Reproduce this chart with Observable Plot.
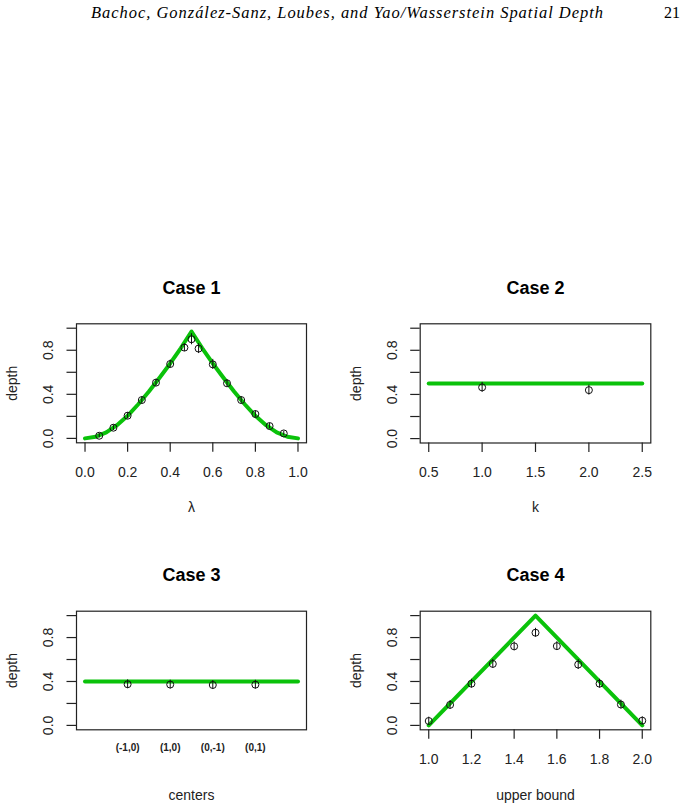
<!DOCTYPE html>
<html>
<head>
<meta charset="utf-8">
<script src="https://cdn.jsdelivr.net/npm/d3@7"></script>
<script src="https://cdn.jsdelivr.net/npm/@observablehq/plot@0.6"></script>
<style>
  html, body { margin: 0; padding: 0; background: #fff; }
  #page { position: relative; width: 694px; height: 809px; overflow: hidden; background: #fff; }
  .panel { position: absolute; }
  .panel svg { overflow: visible; }
</style>
</head>
<body>
<div id="page">
  <svg id="header" width="694" height="30" style="position:absolute;left:0;top:0">
    <text id="runhead" x="91" y="18" font-family="'Liberation Serif', 'DejaVu Serif', serif" font-style="italic" font-size="16.5" textLength="512" lengthAdjust="spacing" fill="#000"></text>
    <text id="pagenum" x="680" y="18" text-anchor="end" font-family="'Liberation Serif', 'DejaVu Serif', serif" font-size="16" fill="#000"></text>
  </svg>
</div>
<script>
// ---------------- data ----------------
const headerText = "Bachoc, González-Sanz, Loubes, and Yao/Wasserstein Spatial Depth";
const pageNumber = "21";

const panelTitles = ["Case 1", "Case 2", "Case 3", "Case 4"];
const xLabels = ["λ", "k", "centers", "upper bound"];
const yLabel = "depth";

const yTicks = [0, 0.2, 0.4, 0.6, 0.8, 1.0];
const yTickLabels = ["0.0", "", "0.4", "", "0.8", ""];

// Case 1
const case1Lambda = [0.0667, 0.1333, 0.2, 0.2667, 0.3333, 0.4, 0.4667, 0.5, 0.5333, 0.6, 0.6667, 0.7333, 0.8, 0.8667, 0.9333];
const case1Depth  = [0.024, 0.097, 0.206, 0.348, 0.506, 0.675, 0.824, 0.900, 0.815, 0.672, 0.500, 0.348, 0.221, 0.112, 0.045];
const case1Err    = [0.02, 0.025, 0.028, 0.03, 0.03, 0.035, 0.035, 0.05, 0.045, 0.045, 0.03, 0.03, 0.03, 0.025, 0.02];
const case1CurveX = [0, 0.05, 0.1, 0.15, 0.2, 0.25, 0.3, 0.35, 0.4, 0.45, 0.5, 0.55, 0.6, 0.65, 0.7, 0.75, 0.8, 0.85, 0.9, 0.95, 1.0];
const case1CurveY = [0, 0.015, 0.055, 0.12, 0.205, 0.31, 0.425, 0.55, 0.68, 0.82, 0.97, 0.82, 0.68, 0.55, 0.425, 0.31, 0.205, 0.12, 0.055, 0.015, 0];
const case1XTicks = [0, 0.2, 0.4, 0.6, 0.8, 1.0];
const case1XTickLabels = ["0.0", "0.2", "0.4", "0.6", "0.8", "1.0"];

// Case 2
const case2K = [1, 2];
const case2Depth = [0.464, 0.439];
const case2Err = [0.045, 0.045];
const case2LineX = [0.5, 2.5];
const case2LineY = [0.5, 0.5];
const case2XTicks = [0.5, 1.0, 1.5, 2.0, 2.5];
const case2XTickLabels = ["0.5", "1.0", "1.5", "2.0", "2.5"];

// Case 3
const case3Centers = ["(-1,0)", "(1,0)", "(0,-1)", "(0,1)"];
const case3Pos = [1, 2, 3, 4];
const case3Depth = [0.375, 0.372, 0.368, 0.371];
const case3Err = [0.04, 0.04, 0.04, 0.04];
const case3LineX = [0, 5];
const case3LineY = [0.4, 0.4];

// Case 4
const case4Bound = [1.0, 1.1, 1.2, 1.3, 1.4, 1.5, 1.6, 1.7, 1.8, 1.9, 2.0];
const case4Depth = [0.040, 0.187, 0.380, 0.560, 0.720, 0.844, 0.722, 0.554, 0.380, 0.190, 0.043];
const case4Err   = [0.035, 0.04, 0.04, 0.04, 0.04, 0.04, 0.04, 0.045, 0.04, 0.04, 0.035];
const case4LineX = [1.0, 1.5, 2.0];
const case4LineY = [0, 1.0, 0];
const case4XTicks = [1.0, 1.2, 1.4, 1.6, 1.8, 2.0];
const case4XTickLabels = ["1.0", "1.2", "1.4", "1.6", "1.8", "2.0"];

// ---------------- drawing ----------------
document.getElementById("runhead").textContent = headerText;
document.getElementById("pagenum").textContent = pageNumber;

const GREEN = "#0ac20a";
const FONT = "'Liberation Sans', Arial, Helvetica, sans-serif";

function panel(cfg) {
  const pts = cfg.xs.map((x, i) => ({x, y: cfg.ys[i], lo: cfg.ys[i] - cfg.err[i], hi: cfg.ys[i] + cfg.err[i]}));
  const line = cfg.lineX.map((x, i) => ({x, y: cfg.lineY[i]}));
  const yt = yTicks.map((v, i) => ({v, label: yTickLabels[i]})).filter(d => d.label !== "");
  const marks = [
    Plot.frame({stroke: "#222", strokeWidth: 1.2}),
    Plot.axisY(yTicks, {anchor: "left", tickSize: 9.5, tickFormat: () => "", label: null, stroke: "#222", strokeWidth: 1.2}),
    Plot.text(yt, {y: "v", text: "label", frameAnchor: "left", dx: -28, rotate: -90, textAnchor: "middle", lineAnchor: "middle", fontSize: 14, fill: "#222"}),
    Plot.text([yLabel], {frameAnchor: "left", dx: -63.5, rotate: -90, textAnchor: "middle", lineAnchor: "middle", fontSize: 14, fill: "#222"}),
    Plot.text([cfg.title], {frameAnchor: "top", dy: -36, fontSize: 18, fontWeight: "bold", lineAnchor: "middle", fill: "#000"}),
    Plot.text([cfg.xLabel], {frameAnchor: "bottom", dy: cfg.xLabelDy, fontSize: 14, lineAnchor: "middle", fill: "#222"}),
  ];
  if (cfg.xTicks) {
    const xt = cfg.xTicks.map((v, i) => ({v, label: cfg.xTickLabels[i]}));
    marks.push(Plot.axisX(cfg.xTicks, {anchor: "bottom", tickSize: 9.5, tickFormat: () => "", label: null, stroke: "#222", strokeWidth: 1.2}));
    marks.push(Plot.text(xt, {x: "v", text: "label", frameAnchor: "bottom", dy: cfg.tickLabelDy, fontSize: 14, lineAnchor: "middle", fill: "#222"}));
  }
  if (cfg.catLabels) {
    const ct = cfg.catPos.map((v, i) => ({v, label: cfg.catLabels[i]}));
    marks.push(Plot.text(ct, {x: "v", text: "label", frameAnchor: "bottom", dy: 18, fontSize: 10, fontWeight: "bold", lineAnchor: "middle", fill: "#222"}));
  }
  marks.push(
    Plot.line(line, {x: "x", y: "y", stroke: GREEN, strokeWidth: 4, strokeLinejoin: "round", strokeLinecap: "round"}),
    Plot.ruleX(pts, {x: "x", y1: "lo", y2: "hi", stroke: "#111", strokeWidth: 1}),
    Plot.dot(pts, {x: "x", y: "y", r: 3.5, stroke: "#111", strokeWidth: 1, fill: "none"})
  );
  const svg = Plot.plot({
    width: 347,
    height: cfg.height,
    marginLeft: cfg.ml, marginRight: cfg.mr, marginTop: cfg.mt, marginBottom: cfg.mb,
    style: {fontFamily: FONT, background: "transparent", overflow: "visible"},
    x: {domain: cfg.xDomain, axis: null},
    y: {domain: [-0.04, 1.04], axis: null},
    marks
  });
  const div = document.createElement("div");
  div.className = "panel";
  div.style.left = cfg.left + "px";
  div.style.top = cfg.top + "px";
  div.appendChild(svg);
  document.getElementById("page").appendChild(div);
}

panel({
  title: panelTitles[0], xLabel: xLabels[0],
  left: 0, top: 270, height: 250, ml: 76, mr: 41, mt: 53.3, mb: 77.7,
  xDomain: [-0.04, 1.04],
  xs: case1Lambda, ys: case1Depth, err: case1Err,
  lineX: case1CurveX, lineY: case1CurveY,
  xTicks: case1XTicks, xTickLabels: case1XTickLabels,
  tickLabelDy: 29.5, xLabelDy: 65
});
panel({
  title: panelTitles[1], xLabel: xLabels[1],
  left: 347, top: 270, height: 250, ml: 72.7, mr: 43.7, mt: 53.3, mb: 77.5,
  xDomain: [0.42, 2.58],
  xs: case2K, ys: case2Depth, err: case2Err,
  lineX: case2LineX, lineY: case2LineY,
  xTicks: case2XTicks, xTickLabels: case2XTickLabels,
  tickLabelDy: 29.5, xLabelDy: 65
});
panel({
  title: panelTitles[2], xLabel: xLabels[2],
  left: 0, top: 560, height: 249, ml: 76, mr: 41, mt: 50.7, mb: 79.7,
  xDomain: [-0.2, 5.2],
  xs: case3Pos, ys: case3Depth, err: case3Err,
  lineX: case3LineX, lineY: case3LineY,
  catPos: case3Pos, catLabels: case3Centers,
  xLabelDy: 65.5
});
panel({
  title: panelTitles[3], xLabel: xLabels[3],
  left: 347, top: 560, height: 249, ml: 72.7, mr: 43.7, mt: 50.7, mb: 79.7,
  xDomain: [0.96, 2.04],
  xs: case4Bound, ys: case4Depth, err: case4Err,
  lineX: case4LineX, lineY: case4LineY,
  xTicks: case4XTicks, xTickLabels: case4XTickLabels,
  tickLabelDy: 30, xLabelDy: 65.5
});
</script>
</body>
</html>
